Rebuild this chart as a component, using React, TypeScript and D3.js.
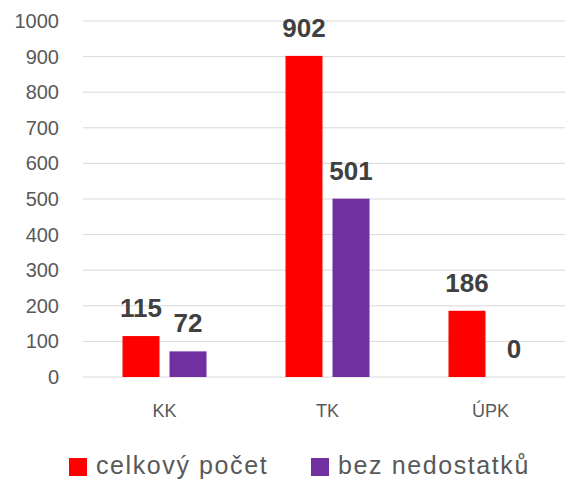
import React from 'react';
import * as d3 from 'd3';

const categories = ['KK', 'TK', 'ÚPK'];
const seriesNames = ['celkový počet', 'bez nedostatků'];
const celkovyPocet = [115, 902, 186];
const bezNedostatku = [72, 501, 0];
const seriesColors = ['#FF0000', '#7030A0'];
const yTicks = [0, 100, 200, 300, 400, 500, 600, 700, 800, 900, 1000];

const width = 565;
const height = 480;
const font = '"Liberation Sans", Arial, sans-serif';

export default function App() {
    const x = d3.scaleBand().domain(categories).range([83, 572]);
    const inner = d3
        .scaleBand()
        .domain(seriesNames)
        .range([0, x.bandwidth()])
        .paddingInner(0.213)
        .paddingOuter(0.84);
    const y = d3.scaleLinear().domain([0, 1000]).range([377, 21]);

    const values = [celkovyPocet, bezNedostatku];

    const bars = categories.flatMap((cat, i) =>
        seriesNames.map((s, j) => ({
            cat,
            series: s,
            value: values[j][i],
            color: seriesColors[j],
        }))
    );

    return (
        <svg
            width={width}
            height={height}
            style={{ position: 'absolute', left: 0, top: 0, background: '#fff' }}
            fontFamily={font}
        >
            <g>
                {yTicks.map((t) => (
                    <g key={t}>
                        <line x1={83} x2={width} y1={y(t)} y2={y(t)} stroke="#d9d9d9" strokeWidth={1} />
                        <text
                            x={59}
                            y={y(t)}
                            dy="0.35em"
                            textAnchor="end"
                            fontSize={20}
                            fill="#595959"
                        >
                            {t}
                        </text>
                    </g>
                ))}
            </g>
            <g>
                {bars.map((d) => {
                    const bx = (x(d.cat) ?? 0) + (inner(d.series) ?? 0);
                    const bw = inner.bandwidth();
                    return (
                        <g key={d.cat + d.series}>
                            {d.value > 0 && (
                                <rect
                                    x={bx}
                                    y={y(d.value)}
                                    width={bw}
                                    height={y(0) - y(d.value)}
                                    fill={d.color}
                                />
                            )}
                            <text
                                x={bx + bw / 2}
                                y={y(d.value) - 19}
                                textAnchor="middle"
                                fontSize={26}
                                fontWeight="bold"
                                fill="#404040"
                            >
                                {d.value}
                            </text>
                        </g>
                    );
                })}
            </g>
            <g>
                {categories.map((c) => (
                    <text
                        key={c}
                        x={(x(c) ?? 0) + x.bandwidth() / 2}
                        y={417}
                        textAnchor="middle"
                        fontSize={18}
                        fill="#595959"
                    >
                        {c}
                    </text>
                ))}
            </g>
            <g>
                {seriesNames.map((s, i) => {
                    const lx = [69, 311][i];
                    return (
                        <g key={s}>
                            <rect x={lx} y={458} width={18} height={18} fill={seriesColors[i]} />
                            <text
                                x={lx + 27}
                                y={474}
                                fontSize={25}
                                letterSpacing={1.6}
                                fill="#595959"
                            >
                                {s}
                            </text>
                        </g>
                    );
                })}
            </g>
        </svg>
    );
}
